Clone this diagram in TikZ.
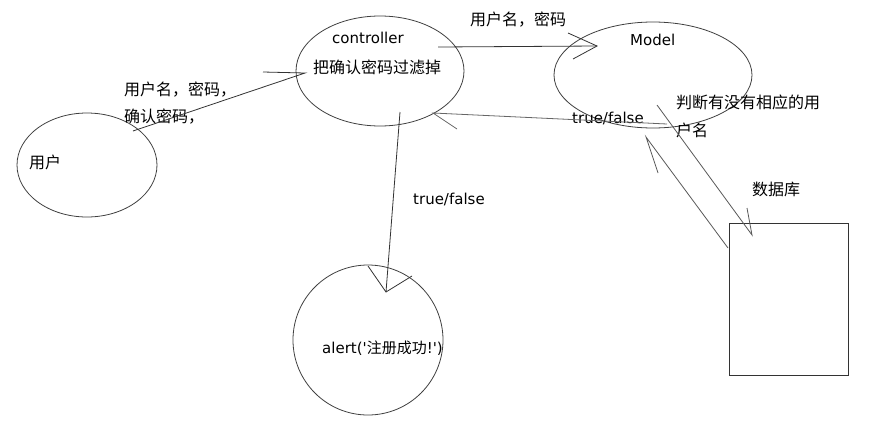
\documentclass[tikz,border=0pt]{standalone}
\usepackage{fontspec}
\setmainfont{DejaVu Sans}
\newfontfamily\cjk{Noto Sans CJK SC}
\newfontfamily\latinfont{DejaVu Sans}
\usepackage{tikz}
\usetikzlibrary{shapes.geometric}
\usetikzlibrary{positioning}

\begin{document}
\begin{tikzpicture}[x=1pt, y=-1pt,
  bubble/.style={draw=black!75, ellipse, line width=0.8pt, inner sep=0pt},
  zh/.style={inner sep=0pt, anchor=west, font=\cjk\fontsize{16}{19}\selectfont},
  en/.style={inner sep=0pt, anchor=west, font=\latinfont\fontsize{15}{18}\selectfont},
  stroke/.style={draw=black!80, line width=0.8pt}]
  \fill[white] (0,0) rectangle (889,437);
  \useasboundingbox (0,0) rectangle (889,437);

  \node[bubble, minimum width=140, minimum height=104] (user) at (87,165) {};
  \node[bubble, minimum width=168, minimum height=110] (ctrl) at (380,71) {};
  \node[bubble, minimum width=198, minimum height=106] (model) at (653,75) {};
  \node[bubble, minimum width=150, minimum height=150] (alert) at (368,340) {};
  \node[draw=black!80, line width=0.8pt, rectangle, minimum width=119, minimum height=152] (db) at (788.5,299) {};

  \node[zh] (userlbl) at (29,162) {用户};
  \node[en] (ctrllbl) at (332,38) {controller};
  \node[zh] (filterlbl) at (313,67) {把确认密码过滤掉};
  \node[en] (modellbl) at (630,40) {Model};
  \node[zh] (dblbl) at (752,189) {数据库};
  \node[zh] (checklbl) at (676,102) {判断有没有相应的用};
  \node[zh] (checklbl2) at (676,130) {户名};
  \node[en] (alertlbl) at (322,348) {alert('{\cjk 注册成功}!')};
  \node[zh] (sendlbl) at (124,90) {用户名，密码，};
  \node[zh] (sendlbl2) at (124,117) {确认密码，};
  \node[zh] (passlbl) at (470,20) {用户名，密码};
  \node[en] (tf1) at (572,118) {true/false};
  \node[en] (tf2) at (413,199) {true/false};

  \coordinate (uc0) at (133,131);
  \coordinate (uc1) at (305,73);
  \coordinate (cm0) at (438,47);
  \coordinate (cm1) at (597,46);
  \coordinate (mc0) at (667,124);
  \coordinate (mc1) at (433,113);
  \coordinate (ca0) at (400,112);
  \coordinate (ca1) at (386,292);
  \coordinate (md0) at (657,105);
  \coordinate (md1) at (752,235);
  \coordinate (dm0) at (728,248);
  \coordinate (dm1) at (646,137);

  \draw[stroke] (uc0) -- (uc1) -- (263,72);
  \draw[stroke] (cm0) -- (cm1);
  \draw[stroke] (568,33) -- (cm1) -- (573,59);
  \draw[stroke, draw=black!60] (mc0) -- (mc1) -- (457,129);
  \draw[stroke] (ca0) -- (ca1);
  \draw[stroke] (368,266) -- (ca1) -- (412,276);
  \draw[stroke, draw=black!65] (md0) -- (md1) -- (747,208);
  \draw[stroke, draw=black!65] (dm0) -- (dm1) -- (658,173);
\end{tikzpicture}
\end{document}
